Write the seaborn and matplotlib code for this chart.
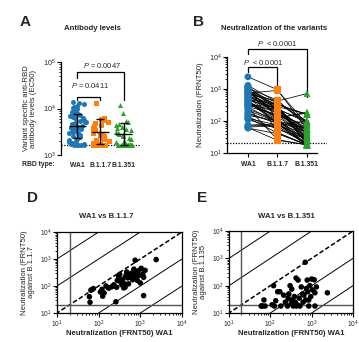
import numpy as np
import pandas as pd
import matplotlib
matplotlib.use("Agg")
import matplotlib.pyplot as plt
import seaborn as sns
from matplotlib.ticker import LogLocator, LogFormatterMathtext, NullFormatter, FixedLocator

sns.set_style("white")
plt.rcParams['font.family'] = ['Liberation Sans', 'DejaVu Sans']
plt.rcParams['mathtext.fontset'] = 'custom'
plt.rcParams['mathtext.rm'] = 'Liberation Sans'
plt.rcParams['mathtext.it'] = 'Liberation Sans:italic'
plt.rcParams['mathtext.bf'] = 'Liberation Sans:bold'

# ---------------- data ----------------
variants = ["WA1", "B.1.1.7", "B.1.351"]
colors = ["#1f77b4", "#ff7f0e", "#2ca02c"]
markers = ["o", "s", "^"]

# Panel A: variant specific anti-RBD antibody levels (EC50)
ab_wa1 = [1640, 1640, 1640, 1640, 1650, 1700, 1750, 1850, 1950, 2050, 2150, 2250, 2400,
          2500, 2650, 2750, 2900, 3000, 3150, 3300, 3450, 3600, 3750, 3900, 4050, 4200,
          4400, 4600, 4800, 5000, 5200, 5500, 5800, 6100, 6400, 6800, 7200, 7600, 8000,
          8500, 9000, 9600, 10200, 10800, 11500, 12200, 13000, 13500, 6600, 3800]
ab_b117 = [1640, 1640, 1640, 1640, 1640, 1640, 1640, 1640, 1640, 1640, 1640, 1640, 1640,
           1640, 1650, 1700, 1800, 1900, 2000, 2100, 2200, 2350, 2500, 2650, 2800, 3000,
           3200, 3400, 3600, 3900, 4200, 4500, 4800, 5200, 5600, 6000, 6300, 13000]
ab_b1351 = [1640, 1640, 1640, 1640, 1640, 1640, 1640, 1640, 1640, 1640, 1640, 1640, 1640,
            1640, 1640, 1660, 1750, 1850, 1950, 2050, 2200, 2350, 2500, 2650, 2800, 3000,
            3200, 3400, 3600, 3800, 4100, 4400, 4700, 5100, 5500, 8000, 11900]
ab_gmean = [4200, 3100, 2800]
ab_sd_low = [2300, 1700, 1650]
ab_sd_high = [7500, 5900, 4800]
ab_lod = 1640
ab_p = ["0.0411", "0.0047"]

# Panels B, D, E: neutralization (FRNT50), paired per subject
nt_wa1 = [60, 62, 65, 70, 75, 120, 125, 135, 150, 180, 210, 230, 260, 270, 280, 300, 320,
          340, 360, 380, 400, 420, 450, 470, 500, 520, 560, 600, 620, 650, 700, 720, 750,
          780, 800, 850, 900, 950, 1000, 1050, 1200, 1200, 1300, 2400, 850, 430, 330, 110,
          170, 1150]
nt_b117 = [40, 25, 70, 75, 80, 75, 42, 55, 100, 85, 95, 110, 26, 90, 160, 230, 270, 140,
           110, 180, 85, 120, 240, 330, 200, 120, 240, 230, 300, 170, 420, 250, 900, 330,
           200, 300, 370, 250, 130, 450, 44, 210, 380, 950, 160, 90, 150, 60, 85, 280]
nt_b1351 = [18, 18, 18, 30, 18, 100, 18, 28, 60, 18, 45, 25, 18, 35, 50, 100, 22, 30, 18,
            40, 25, 190, 20, 160, 35, 18, 90, 50, 25, 45, 720, 30, 80, 160, 60, 18, 100, 40,
            175, 70, 18, 55, 90, 55, 30, 18, 75, 20, 60, 165]
nt_lod = 20
nt_p = ["< 0.0001", "< 0.0001"]

# ---------------- figure ----------------
W, H = 359, 342
fig = plt.figure(figsize=(W / 100, H / 100), dpi=100)


def ax_px(l, t, r, b):
    return fig.add_axes([l / W, 1 - b / H, (r - l) / W, (b - t) / H])


def ftext(x, y, s, **kw):
    fig.text(x / W, 1 - y / H, s, ha=kw.pop('ha', 'center'), va=kw.pop('va', 'center'), **kw)


TS = 5.2   # tick label size
CS = 4.9   # category label size


def style_log_y(ax):
    ax.yaxis.set_major_locator(LogLocator(base=10, numticks=10))
    ax.yaxis.set_minor_locator(LogLocator(base=10, subs=np.arange(2, 10), numticks=10))
    ax.yaxis.set_major_formatter(LogFormatterMathtext())
    ax.yaxis.set_minor_formatter(NullFormatter())


def style_log_x(ax):
    ax.xaxis.set_major_locator(LogLocator(base=10, numticks=10))
    ax.xaxis.set_minor_locator(LogLocator(base=10, subs=np.arange(2, 10), numticks=10))
    ax.xaxis.set_major_formatter(LogFormatterMathtext())
    ax.xaxis.set_minor_formatter(NullFormatter())


# ---------- Panel A ----------
axA = ax_px(61, 62, 140, 155)
axA.set_yscale('log')
np.random.seed(3)
ab_groups = [ab_wa1, ab_b117, ab_b1351]
for i, vals in enumerate(ab_groups):
    d = pd.DataFrame({'variant': variants[i], 'val': vals})
    sns.stripplot(data=d, x='variant', y='val', order=variants, color=colors[i],
                  marker=markers[i], size=3.6, jitter=0.38, linewidth=0, ax=axA, zorder=2)
xs = np.arange(3)
g = np.array(ab_gmean)
axA.errorbar(xs, g, yerr=[g - np.array(ab_sd_low), np.array(ab_sd_high) - g], fmt='none',
             ecolor='k', elinewidth=1.0, capsize=3.2, capthick=1.0, zorder=4)
axA.hlines(g, xs - 0.36, xs + 0.36, color='k', lw=1.0, zorder=4)
axA.axhline(ab_lod, color='k', ls=(0, (1, 1.2)), lw=0.9, zorder=1)
axA.set_xlim(-0.7, 2.7)
axA.set_ylim(1e3, 1e5)
style_log_y(axA)
for s in ['top', 'right', 'bottom']:
    axA.spines[s].set_visible(False)
axA.spines['left'].set_color('k')
axA.spines['left'].set_linewidth(0.9)
axA.tick_params(axis='y', which='major', length=3, width=0.8, labelsize=TS, pad=1, left=True, color='k')
axA.tick_params(axis='y', which='minor', length=1.6, width=0.6, left=True, color='k')
axA.tick_params(axis='x', length=0, pad=5)
axA.set_xticks(xs)
axA.set_xticklabels(variants, fontsize=CS, fontweight='bold')
axA.set_xlabel('')
axA.set_ylabel('Variant specific anti-RBD\nantibody levels (EC50)', fontsize=5.6, labelpad=4,
               linespacing=1.0)
# brackets A
axA.plot([0, 0, 1, 1], [15000, 17800, 17800, 15000], color='k', lw=0.9, clip_on=False)
axA.plot([0, 0, 2, 2], [45000, 61000, 61000, 15000], color='k', lw=0.9, clip_on=False)
axA.text(0.55, 31000, r'$P$ = ' + ab_p[0], fontsize=5.4, ha='center', va='center')
axA.text(1.05, 86000, r'$P$ = ' + ab_p[1], fontsize=5.4, ha='center', va='center')

ftext(25, 22, 'A', fontsize=11, fontweight='bold')
ftext(92, 28, 'Antibody levels', fontsize=5.6, fontweight='bold')
ftext(55, 164, 'RBD type:', fontsize=CS, fontweight='bold', ha='right')

# ---------- Panel B ----------
axB = ax_px(227, 57, 327, 153)
axB.set_yscale('log')
n = len(nt_wa1)
long = pd.DataFrame({
    'subject': np.tile(np.arange(n), 3),
    'pos': np.repeat([0, 1, 2], n),
    'variant': np.repeat(variants, n),
    'val': nt_wa1 + nt_b117 + nt_b1351,
})
sns.lineplot(data=long, x='pos', y='val', units='subject', estimator=None, color='k',
             lw=0.55, ax=axB, zorder=2, legend=False)
for i, v in enumerate(variants):
    d = long[long['variant'] == v]
    sns.scatterplot(data=d, x='pos', y='val', color=colors[i], marker=markers[i], s=24,
                    edgecolor='none', ax=axB, zorder=3, legend=False)
axB.axhline(nt_lod, color='k', ls=(0, (1, 1.2)), lw=0.9, zorder=1)
axB.set_xlim(-0.71, 2.68)
axB.set_ylim(10, 1e4)
style_log_y(axB)
for s in ['top', 'right']:
    axB.spines[s].set_visible(False)
for s in ['left', 'bottom']:
    axB.spines[s].set_color('k')
    axB.spines[s].set_linewidth(0.9)
axB.spines['bottom'].set_bounds(-0.71, 2.34)
axB.tick_params(axis='y', which='major', length=3, width=0.8, labelsize=TS, pad=1, left=True, color='k')
axB.tick_params(axis='y', which='minor', length=1.6, width=0.6, left=True, color='k')
axB.set_xticks(xs)
axB.xaxis.set_minor_locator(FixedLocator([]))
axB.set_xticklabels(variants, fontsize=CS, fontweight='bold')
axB.tick_params(axis='x', length=3, width=0.8, pad=2.5, bottom=True, color='k')
axB.set_xlabel('')
axB.set_ylabel('Neutralization (FRNT50)', fontsize=5.6, labelpad=3)
axB.plot([0, 0, 1, 1], [3400, 4900, 4900, 1330], color='k', lw=0.9, clip_on=False)
axB.plot([0, 0, 2, 2], [12000, 17800, 17800, 560], color='k', lw=0.9, clip_on=False)
axB.text(0.5, 6900, r'$P$  ' + nt_p[0], fontsize=5.4, ha='center', va='center')
axB.text(1.0, 27000, r'$P$  ' + nt_p[1], fontsize=5.4, ha='center', va='center', clip_on=False)

ftext(198, 22, 'B', fontsize=11, fontweight='bold')
ftext(274, 28, 'Neutralization of the variants', fontsize=5.6, fontweight='bold')


# ---------- Panels D & E ----------
def scatter_panel(ax, yvals, ylab):
    ax.set_xscale('log')
    ax.set_yscale('log')
    ref = np.array([1.0, 1e6])
    for k in [100, 10, 0.1, 0.01]:
        ax.plot(ref, ref * k, color='k', lw=0.7, zorder=1)
    ax.plot(ref, ref, color='k', lw=1.1, ls=(0, (3, 1.5)), zorder=1)
    ax.axvline(nt_lod, color='#555555', lw=1.0, zorder=1)
    ax.axhline(nt_lod, color='#555555', lw=1.0, zorder=1)
    sns.scatterplot(x=nt_wa1, y=yvals, color='k', s=16, edgecolor='none', ax=ax, zorder=3,
                    legend=False)
    ax.set_xlim(10, 1e4)
    ax.set_ylim(10, 1e4)
    style_log_x(ax)
    style_log_y(ax)
    for s in ax.spines.values():
        s.set_visible(True)
        s.set_color('k')
        s.set_linewidth(0.9)
    ax.tick_params(which='major', length=3, width=0.8, labelsize=4.8, pad=1,
                   left=True, bottom=True, color='k')
    ax.tick_params(which='minor', length=1.6, width=0.6, left=True, bottom=True, color='k')
    ax.set_xlabel('Neutralization (FRNT50) WA1', fontsize=5.6, fontweight='bold', labelpad=0)
    ax.set_ylabel(ylab, fontsize=5.6, labelpad=3, linespacing=1.0)


axD = ax_px(57, 232, 182, 313)
scatter_panel(axD, nt_b117, 'Neutralization (FRNT50)\nagainst B.1.1.7')
ftext(32, 198, 'D', fontsize=11, fontweight='bold')
ftext(106, 217, 'WA1 vs B.1.1.7', fontsize=5.6, fontweight='bold')

axE = ax_px(229, 231, 353, 313)
scatter_panel(axE, nt_b1351, 'Neutralization (FRNT50)\nagainst B.1.135')
ftext(202, 198, 'E', fontsize=11, fontweight='bold')
ftext(286, 217, 'WA1 vs B.1.351', fontsize=5.6, fontweight='bold')

fig.savefig('out.png', dpi=100)
